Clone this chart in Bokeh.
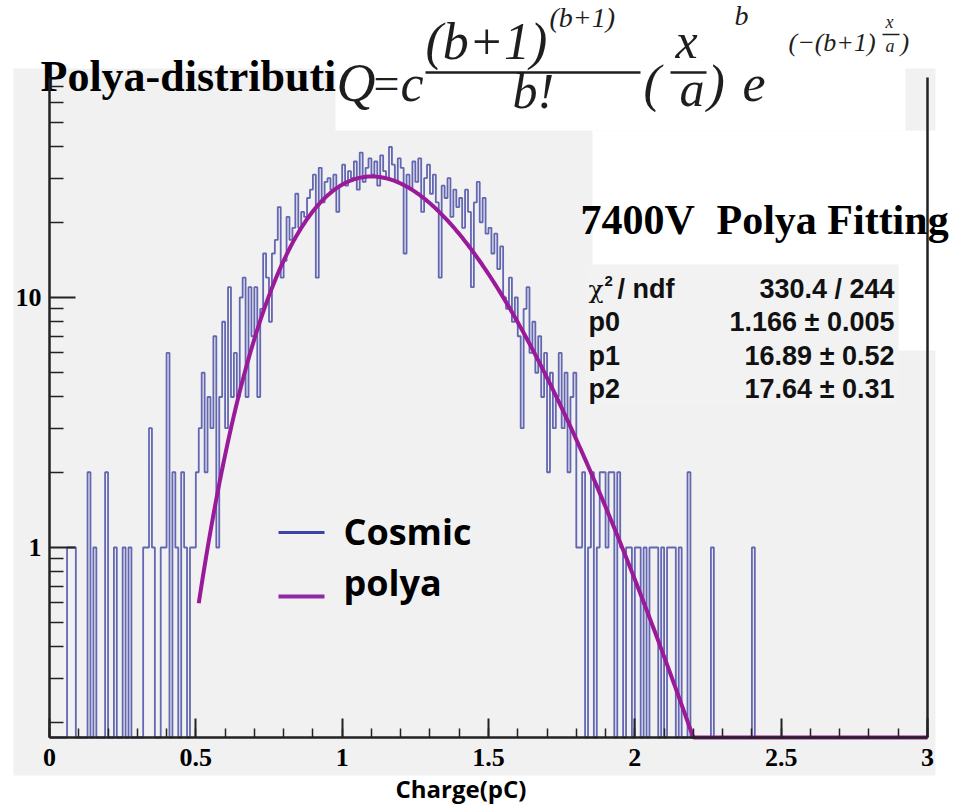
import math
import numpy as np
from bokeh.plotting import figure
from bokeh.models import Range1d, LinearAxis, LogAxis, FixedTicker
from bokeh.core.properties import value
from bokeh.embed import file_html
from bokeh.resources import INLINE

W, H = 956, 805

# ---- data -------------------------------------------------------------
bin_width = 0.01          # histogram bins start at 0 pC
counts = (
    [0, 0, 0, 0, 0, 0, 1, 1, 1, 0] +          # 0.00 - 0.09
    [0, 0, 0, 2, 0, 1, 0, 0, 0, 2] +          # 0.10
    [0, 0, 1, 0, 0, 1, 0, 1, 0, 0] +          # 0.20
    [0, 0, 1, 1, 3, 1, 0, 0, 1, 1] +          # 0.30
    [6, 0, 2, 1, 0, 2, 1, 0, 1, 1] +          # 0.40
    [2, 3, 5, 2, 4, 3, 7, 1, 4, 8] +          # 0.50
    [3, 11, 4, 6, 4, 10, 12, 4, 11, 7] +      # 0.60
    [11, 4, 9, 15, 12, 8, 15, 17, 23, 12] +   # 0.70
    [14, 21, 17, 19, 26, 19, 22, 21, 25, 27] +  # 0.80
    [31, 12, 33, 24, 29, 30, 27, 31, 22, 28] +  # 0.90
    [34, 28, 32, 30, 35, 27, 38, 29, 33, 36] +  # 1.00
    [31, 35, 28, 37, 32, 30, 40, 34, 29, 36] +  # 1.10
    [33, 15, 31, 27, 35, 29, 36, 22, 30, 34] +  # 1.20
    [26, 31, 24, 12, 28, 25, 30, 21, 27, 23] +  # 1.30
    [25, 19, 27, 22, 11, 24, 29, 20, 25, 18] +  # 1.40
    [19, 15, 18, 13, 16, 10, 9, 12, 8, 10] +  # 1.50
    [7, 3, 9, 11, 6, 8, 5, 7, 4, 6] +         # 1.60
    [2, 5, 3, 4, 6, 3, 5, 2, 4, 5] +          # 1.70
    [1, 1, 2, 0, 1, 2, 0, 1, 2, 2] +          # 1.80
    [1, 2, 2, 0, 2, 1, 0, 1, 1, 0] +          # 1.90
    [1, 1, 0, 1, 0, 1, 1, 1, 0, 1] +          # 2.00
    [0, 1, 1, 1, 0, 1, 0, 0, 2, 0] +          # 2.10
    [0, 0, 0, 0, 0, 0, 1, 0, 0, 0] +          # 2.20
    [0, 0, 0, 0, 0, 0, 0, 0, 0, 0] +          # 2.30
    [1, 0, 0, 0, 0, 0, 0, 0, 0, 0]            # 2.40
)
counts = counts + [0] * (300 - len(counts))   # empty up to 3 pC

# Polya fit parameters: p0 = a, p1 = b, p2 = c
p0, p1, p2 = 1.166, 16.89, 17.64
fit_start, fit_end = 0.51, 3.0
stat_names = ["p0", "p1", "p2"]
stat_values = ["1.166 \u00b1 0.005", "16.89 \u00b1 0.52", "17.64 \u00b1 0.31"]
chi2_text = "330.4 / 244"

x_major = [0, 0.5, 1, 1.5, 2, 2.5, 3]
x_labels = ["0", "0.5", "1", "1.5", "2", "2.5", "3"]
x_minor = [round(0.1 * i, 1) for i in range(31)]
y_major = [1, 10]
y_labels = ["1", "10"]
y_minor = [0.2, 0.3, 0.4, 0.5, 0.6, 0.7, 0.8, 0.9,
           2, 3, 4, 5, 6, 7, 8, 9, 20, 30, 40, 50, 60, 70]

# ---- frame geometry (the plot frame fills the whole canvas) -----------
PX_X0, PX_X3 = 49, 927          # pixel columns of x = 0 and x = 3
PX_Y1, PX_DEC = 547, 250        # pixel row of y = 1, pixels per decade
X_LO = -PX_X0 * 3 / (PX_X3 - PX_X0)
X_HI = X_LO + W * 3 / (PX_X3 - PX_X0)
LOG_HI = PX_Y1 / PX_DEC
LOG_LO = LOG_HI - H / PX_DEC
YMIN = 10 ** (-(737 - PX_Y1) / PX_DEC)   # bottom of the histogram frame
YMAX = 10 ** ((PX_Y1 - 77) / PX_DEC)     # top of the histogram frame


def cx(px):
    return X_LO + (X_HI - X_LO) * px / W


def cy(py):
    return 10 ** (LOG_HI - (LOG_HI - LOG_LO) * py / H)


def size_px(size):
    return float(size.replace("px", ""))


def put_text(px, base_py, s, size, font, style="normal", color="black",
             align="left"):
    """Place text by its baseline row (texts are laid out by their middle)."""
    mid = base_py - 0.32 * size_px(size)
    p.text(x=[cx(px)], y=[cy(mid)], text=[s], text_font=value(font),
           text_font_style=style, text_font_size=size, text_color=color,
           text_align=align, text_baseline="middle")


p = figure(width=W, height=H, x_range=Range1d(X_LO, X_HI),
           y_range=Range1d(10 ** LOG_LO, 10 ** LOG_HI), y_axis_type="log",
           x_axis_location=None, y_axis_location=None, min_border=0,
           toolbar_location=None, output_backend="svg")
p.outline_line_color = None
p.background_fill_color = "white"
p.border_fill_color = "white"
p.grid.visible = False

GRAY = "#f1f1f1"
# pad area
p.quad(left=[cx(13)], right=[cx(935)], bottom=[cy(775)], top=[cy(68)],
       fill_color=GRAY, line_color=None)

# ---- histogram (ROOT-style outline, empty bins sit on the frame bottom) --
edges = np.arange(len(counts) + 1) * bin_width
vals = np.maximum(np.array(counts, dtype=float), YMIN)
hx = np.concatenate([[edges[0]], np.repeat(edges, 2)[1:-1], [edges[-1]]])
hy = np.concatenate([[YMIN], np.repeat(vals, 2), [YMIN]])
p.line(hx, hy, line_color="#4a4ea6", line_width=1.8, line_alpha=0.85)

# ---- Polya fit ---------------------------------------------------------
a, b, c = p0, p1, p2
xf = np.linspace(fit_start, fit_end, 600)
log_q = (math.log(c) + (b + 1) * math.log(b + 1) - math.lgamma(b + 1)
         + b * np.log(xf / a) - (b + 1) * xf / a)
yf = np.maximum(np.exp(log_q), YMIN)
p.line(xf, yf, line_color="#9a1a9a", line_width=4)

# ---- axes ---------------------------------------------------------------
AX = "#222222"
xaxis = LinearAxis(fixed_location=YMIN, bounds=(0, 3),
                   ticker=FixedTicker(ticks=x_major, minor_ticks=x_minor),
                   major_label_overrides=dict(zip(x_major, x_labels)))
yaxis = LogAxis(fixed_location=0, bounds=(YMIN, YMAX),
                ticker=FixedTicker(ticks=y_major, minor_ticks=y_minor),
                major_label_overrides=dict(zip(y_major, y_labels)))
for ax in (xaxis, yaxis):
    ax.axis_line_color = AX
    ax.axis_line_width = 2.5
    ax.major_tick_line_color = AX
    ax.minor_tick_line_color = AX
    ax.major_tick_line_width = 2
    ax.minor_tick_line_width = 1.5
    ax.major_tick_out = 0
    ax.minor_tick_out = 0
    ax.major_label_text_font = "Liberation Serif"
    ax.major_label_text_font_style = "bold"
    ax.major_label_text_font_size = "26px"
    ax.major_label_text_color = "black"
xaxis.major_tick_in = 19
xaxis.minor_tick_in = 9
xaxis.major_label_standoff = 11
yaxis.major_tick_in = 26
yaxis.minor_tick_in = 14
yaxis.major_label_standoff = 8
p.add_layout(xaxis, "below")
p.add_layout(yaxis, "left")

# ---- legend -------------------------------------------------------------
p.segment(x0=[cx(278)], x1=[cx(324)], y0=[cy(532)], y1=[cy(532)],
          line_color="#3c44a8", line_width=3)
p.segment(x0=[cx(278)], x1=[cx(324)], y0=[cy(596)], y1=[cy(596)],
          line_color="#8e2aa6", line_width=4)
put_text(343, 543, "Cosmic", "36px", "Open Sans", "bold")
put_text(343, 594, "polya", "36px", "Open Sans", "bold")

# ---- fit info box -------------------------------------------------------
p.quad(left=[cx(592)], right=[cx(956)], bottom=[cy(350)], top=[cy(130)],
       fill_color="white", line_color=None)
p.quad(left=[cx(585)], right=[cx(898)], bottom=[cy(405)], top=[cy(264)],
       fill_color="#f2f2f2", line_color=None)
# right edge of the frame
p.segment(x0=[3], x1=[3], y0=[YMIN], y1=[YMAX], line_color=AX, line_width=2.5)

put_text(580, 233, "7400V", "42px", "Liberation Serif", "bold")
put_text(716, 233, "Polya Fitting", "42px", "Liberation Serif", "bold")

SANS = "Liberation Sans"
TC = "#111111"
rows_base = [330, 364, 397]
put_text(588, 297, "\u03c7", "25px", "DejaVu Serif", "normal", TC)
put_text(604, 285, "2", "15px", SANS, "bold", TC)
put_text(617, 297, "/ ndf", "27px", SANS, "bold", TC)
for name, base in zip(stat_names, rows_base):
    put_text(588, base, name, "27px", SANS, "bold", TC)
for txt, base in zip([chi2_text] + stat_values, [297] + rows_base):
    put_text(894, base, txt, "27px", SANS, "bold", TC, "right")

# ---- title and formula --------------------------------------------------
put_text(40, 90, "Polya-distribution", "44px", "Liberation Serif", "bold")
p.quad(left=[cx(335)], right=[cx(905)], bottom=[cy(130)], top=[cy(0)],
       fill_color="white", line_color=None)

SERIF = "Liberation Serif"
FC = "#1e1e1e"


def ftext(px, base_py, s, size, style="italic"):
    put_text(px, base_py, s, size, SERIF, style, FC)


def fbar(px0, px1, py, w):
    p.segment(x0=[cx(px0)], x1=[cx(px1)], y0=[cy(py)], y1=[cy(py)],
              line_color=FC, line_width=w)


ftext(336, 100, "Q", "54px")
ftext(373, 98, "=", "46px", "normal")
ftext(400, 100, "c", "52px")
ftext(425, 58, "(b+1)", "52px")
ftext(549, 26, "(b+1)", "28px")
fbar(425, 640, 72, 2.5)
ftext(512, 106, "b!", "50px")
ftext(643, 100, "(", "52px")
ftext(675, 56, "x", "50px")
fbar(670, 706, 72, 2.5)
ftext(679, 104, "a", "50px")
ftext(707, 100, ")", "52px")
ftext(734, 24, "b", "28px")
ftext(742, 100, "e", "52px")
ftext(788, 50, "(\u2212(b+1)", "26px")
ftext(885, 27, "x", "18px")
fbar(882, 899, 34, 1.5)
ftext(885, 51, "a", "18px")
ftext(900, 50, ")", "26px")

# ---- axis title ---------------------------------------------------------
put_text(395, 796, "Charge(pC)", "24px", "Open Sans", "bold")

with open("out.html", "w") as f:
    f.write(file_html(p, INLINE))
